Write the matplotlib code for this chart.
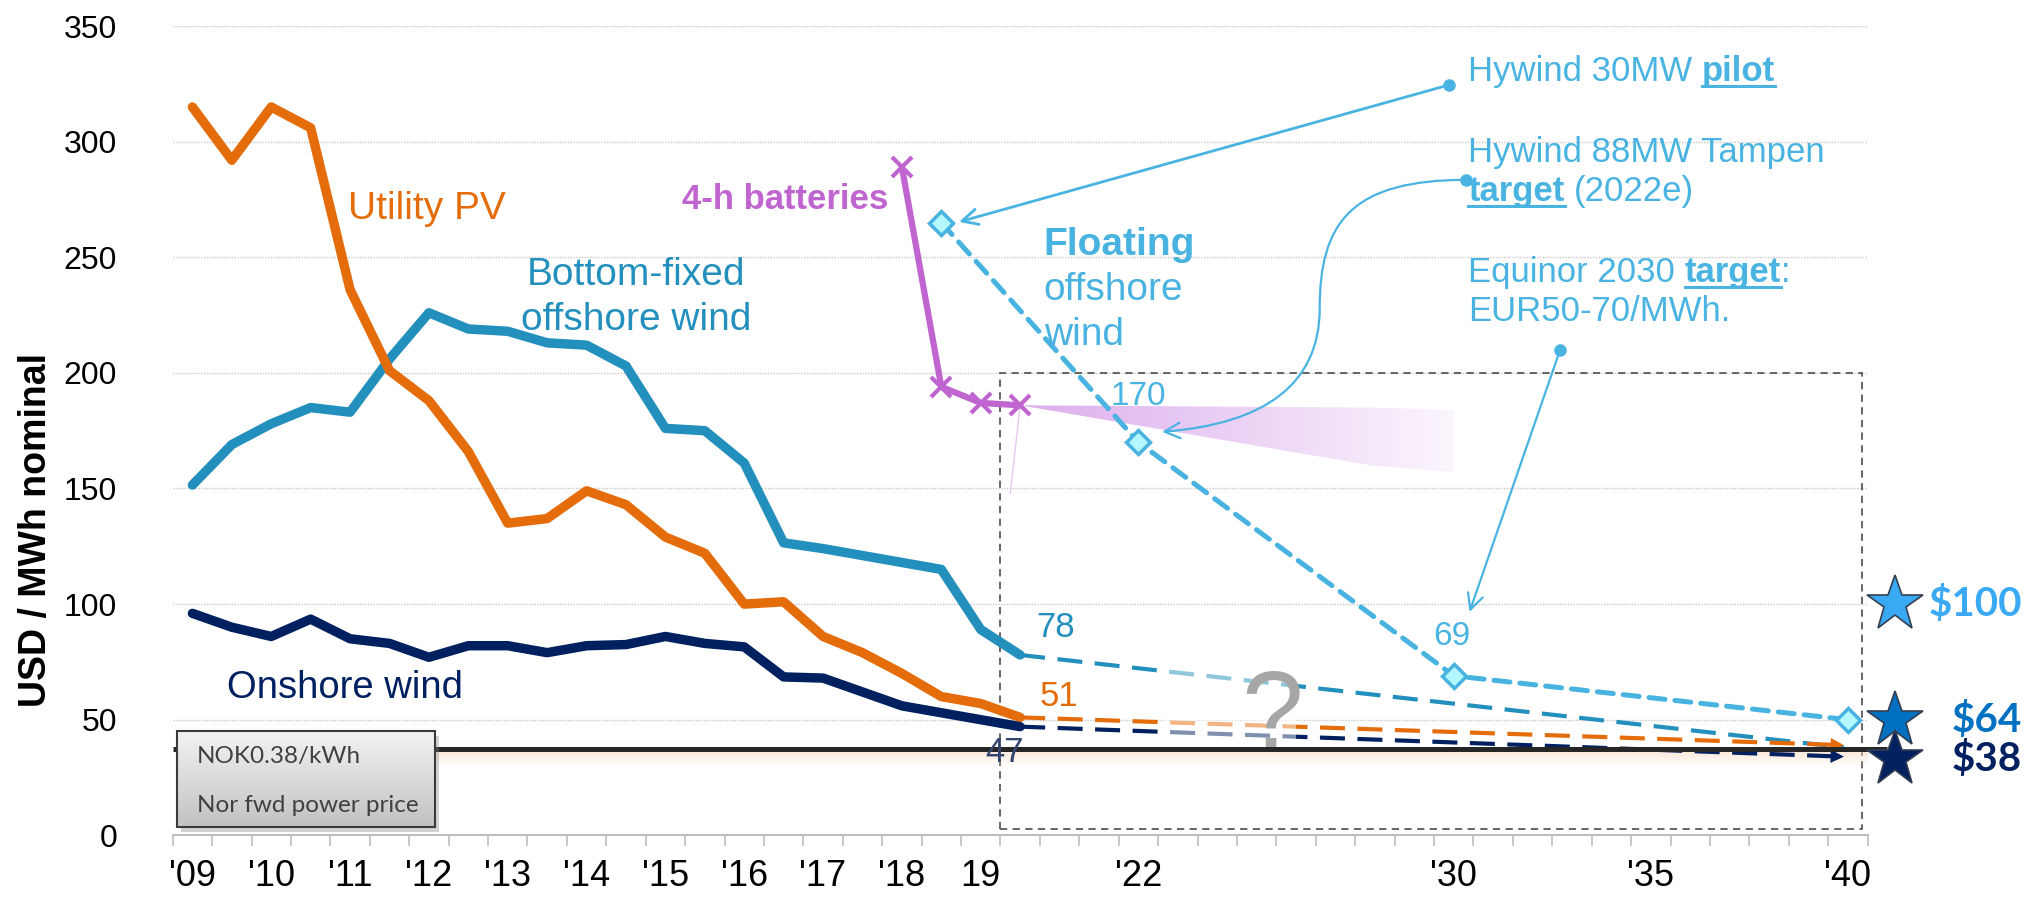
import numpy as np
import matplotlib.pyplot as plt
from matplotlib.patches import Rectangle, Polygon, FancyArrowPatch
from matplotlib.path import Path
from matplotlib.lines import Line2D

plt.rcParams['font.family'] = ['Liberation Sans', 'DejaVu Sans']

# === data (x = half-year category slots, '09 = 0) ===
tick_pos = [0, 2, 4, 6, 8, 10, 12, 14, 16, 18, 20, 24, 32, 37, 42]
tick_text = ["'09", "'10", "'11", "'12", "'13", "'14", "'15", "'16", "'17", "'18",
             "19", "'22", "'30", "'35", "'40"]

hist_x = list(range(22))
utility_pv = [315, 292, 315, 306, 236, 201, 188, 166, 135, 137, 149, 143,
              129, 122, 100, 101, 86, 79, 70, 60, 57, 51]
bottom_fixed = [151.5, 169, 178, 185, 183, 206, 226, 219, 218, 213, 212, 203,
                176, 175, 161, 126.5, 124, 121, 118, 115, 89, 78]
onshore = [96, 90, 86, 93.5, 85, 83, 77, 82, 82, 79, 82, 82.5,
           86, 83, 81.5, 68.5, 68, 62, 56, 53, 50, 47]

batt_x = [18, 19, 20, 21]
batteries = [289, 194, 187, 186]

float_x = [19, 24, 32, 42]
floating = [265, 170, 69, 50]

proj_x = [21, 41.9]
proj_bottom = [78, 38]
proj_pv = [51, 39]
proj_onshore = [47, 34]

band_x = [21, 29.9, 32]
band_top = [186, 185, 184]
band_bot = [186, 160, 157]

power_price = 37.2
star_vals = [100, 50, 33]
star_text = ['$100', '$64', '$38']

# === colours ===
C_PV = '#E46C0A'
C_BF = '#238FBC'
C_ON = '#002060'
C_BAT = '#C064D0'
C_FL = '#48B2E0'
C_ANN = '#49B3E1'
star_cols = ['#3AA9F4', '#0070C0', '#002060']

fig = plt.figure(figsize=(20.26, 8.98), dpi=100)
ax = fig.add_axes([0.08524, 0.06982, 0.83657, 0.90112])
XL, YL = (-0.5, 42.5), (0, 350)

# axes styling
for s in ['left', 'top', 'right']:
    ax.spines[s].set_visible(False)
ax.spines['bottom'].set_color('#BFBFBF')
ax.spines['bottom'].set_linewidth(1.5)
ax.set_yticks(range(0, 351, 50))
ax.tick_params(axis='y', length=0, pad=40, labelsize=23)
ax.yaxis.grid(True, ls=(0, (1, 1)), color='#C8C8C8', lw=1)
ax.set_axisbelow(True)
ax.set_xticks(np.arange(-0.5, 43, 1))
ax.set_xticklabels([])
ax.tick_params(axis='x', which='major', length=8, color='#BFBFBF', width=1.2)
ax.set_xticks(tick_pos, tick_text, minor=True)
ax.tick_params(axis='x', which='minor', length=0, pad=17, labelsize=26)

fig.text(0.0178, 0.41, 'USD / MWh nominal', rotation=90, fontsize=27,
         fontweight='bold', ha='center', va='center')

# dashed box around outlook
ax.add_patch(Rectangle((20.5, 2.6), 42.35 - 20.5, 200 - 2.6, fill=False,
                       ls=(0, (4, 3)), ec='#595959', lw=1.3, zorder=2, clip_on=False))

# purple fading band after batteries
band = Polygon(list(zip(band_x, band_top)) + list(zip(band_x[::-1], band_bot[::-1])),
               closed=True, transform=ax.transData)
grad = np.zeros((2, 256, 4))
grad[..., 0], grad[..., 1], grad[..., 2] = 0.84, 0.62, 0.92
grad[..., 3] = np.linspace(0.85, 0.1, 256)
im = ax.imshow(grad, extent=(band_x[0], band_x[-1], min(band_bot) - 2, max(band_top) + 2),
               aspect='auto', zorder=2, interpolation='bilinear')
im.set_clip_path(band)
ax.plot([21, 20.75], [186, 148], color='#E6C8F0', lw=1, zorder=2)

# peach glow below power price line
glow = np.zeros((64, 2, 4))
glow[..., 0], glow[..., 1], glow[..., 2] = 0.98, 0.84, 0.74
glow[..., 3] = np.linspace(0.6, 0.0, 64)[:, None]
ax.imshow(glow, extent=(6.2, 42.5, power_price - 8, power_price), aspect='auto',
          zorder=2, interpolation='bilinear')

# historical lines
ax.plot(hist_x, bottom_fixed, color=C_BF, lw=6.8, zorder=4, solid_capstyle='round')
ax.plot(hist_x, utility_pv, color=C_PV, lw=6.8, zorder=4, solid_capstyle='round')
ax.plot(hist_x, onshore, color=C_ON, lw=6.8, zorder=4, solid_capstyle='round')

# projections to '40
for ys, c in [(proj_bottom, C_BF), (proj_pv, C_PV), (proj_onshore, C_ON)]:
    ax.plot(proj_x, ys, color=c, lw=3, dashes=(6, 3), zorder=3)
    slope = (ys[1] - ys[0]) / (proj_x[1] - proj_x[0])
    ax.annotate('', xy=(proj_x[1], ys[1]), xytext=(proj_x[1] - 0.7, ys[1] - 0.7 * slope),
                arrowprops=dict(arrowstyle='-|>', color=c, lw=0, mutation_scale=24,
                                shrinkA=0, shrinkB=0), zorder=3)
ax.add_patch(Rectangle((24.6, 40), 3.4, 40, fc='white', ec='none', alpha=0.5, zorder=3.5))
ax.text(27.4, 50, '?', fontsize=80, color='#A6A6A6', ha='center', va='center', zorder=3.6)

# power price line
ax.plot([-0.5, 43.0], [power_price] * 2, color='#262626', lw=3.6, zorder=5,
        clip_on=False, solid_capstyle='butt')

# legend-like box
bx0, bx1, by0, by1 = -0.39, 6.15, 3.6, 45.1
ax.add_patch(Rectangle((bx0 + 0.1, by0 - 2.2), bx1 - bx0, by1 - by0, fc='#7F7F7F',
                       ec='none', alpha=0.35, zorder=6))
box = Rectangle((bx0, by0), bx1 - bx0, by1 - by0, fc='none', ec='#3A3A3A', lw=1.5, zorder=8)
ax.add_patch(box)
bgrad = np.linspace(0.95, 0.76, 64)[:, None] * np.ones((64, 2))
bim = ax.imshow(bgrad, extent=(bx0, bx1, by0, by1), aspect='auto', cmap='gray',
                vmin=0, vmax=1, zorder=7, interpolation='bilinear')
bim.set_clip_path(box)
ax.text(0.12, 34, 'NOK0.38/kWh', fontsize=17.5, family='Lato', color='#404040',
        va='center', zorder=9)
ax.text(0.12, 13.1, 'Nor fwd power price', fontsize=17.5, family='Lato', color='#404040',
        va='center', zorder=9)

# batteries
ax.plot(batt_x, batteries, color=C_BAT, lw=4.5, marker='x', ms=14, mew=3, zorder=6)

# floating offshore wind
ax.plot(float_x, floating, color=C_FL, lw=3.6, dashes=(3.2, 2), dash_capstyle='round', zorder=6)
ax.plot(float_x, floating, ls='none', marker='D', ms=12, mfc='#B3F7FF', mec=C_FL,
        mew=2.5, zorder=7)

# stars and targets
for v, t, c in zip(star_vals, star_text, star_cols):
    ax.plot([43.2], [v], marker='*', ms=42, color=c, mec='#333F50', mew=1.2,
            clip_on=False, zorder=9)
    ax.text(46.41, v, t, ha='right', va='center', fontsize=29, fontweight='bold',
            family='Lato', color=c, clip_on=False)

# series labels
ax.text(3.95, 266.6, 'Utility PV', fontsize=28, color=C_PV, va='baseline')
ax.text(11.26, 238.1, 'Bottom-fixed', fontsize=28, color=C_BF, va='baseline', ha='center')
ax.text(11.26, 218.6, 'offshore wind', fontsize=28, color=C_BF, va='baseline', ha='center')
ax.text(3.88, 59.2, 'Onshore wind', fontsize=27.5, color=C_ON, va='baseline', ha='center')
ax.text(17.65, 271, '4-h batteries', fontsize=25, fontweight='bold', color=C_BAT,
        va='baseline', ha='right')
ax.text(21.6, 251, 'Floating', fontsize=28, fontweight='bold', color=C_FL, va='baseline')
ax.text(21.6, 231.6, 'offshore', fontsize=28, color=C_FL, va='baseline')
ax.text(21.6, 212, 'wind', fontsize=28, color=C_FL, va='baseline')

# value labels
ax.text(21.4, 89.7, '78', fontsize=25, color=C_BF, va='center')
ax.text(21.5, 60, '51', fontsize=25, color=C_PV, va='center')
ax.text(20.6, 35.6, '47', fontsize=25, color='#34456F', va='center', ha='center', zorder=6)
ax.text(24.0, 190, '170', fontsize=24, color=C_ANN, va='center', ha='center')
ax.text(31.95, 86.2, '69', fontsize=24, color=C_ANN, va='center', ha='center')

# annotations with rich text
underlines = []


def rich(x, y, runs, size=25):
    prev = None
    for s, bold, ul, gap in runs:
        kw = dict(fontsize=size, color=C_ANN, fontweight='bold' if bold else 'normal')
        if prev is None:
            t = ax.text(x, y, s, ha='left', va='center', **kw)
        else:
            t = ax.annotate(s, xy=(1, 0), xycoords=prev, xytext=(gap * size, 0),
                            textcoords='offset points', ha='left', va='bottom', **kw)
        if ul:
            underlines.append(t)
        prev = t


rich(32.37, 330.2, [('Hywind 30MW', 0, 0, 0), ('pilot', 1, 1, 0.278)])
rich(32.37, 295.2, [('Hywind 88MW Tampen', 0, 0, 0)])
rich(32.37, 278.3, [('target', 1, 1, 0), ('(2022e)', 0, 0, 0.278)])
rich(32.37, 243.6, [('Equinor 2030', 0, 0, 0), ('target', 1, 1, 0.278), (':', 0, 0, 0)])
rich(32.37, 226.4, [('EUR50-70/MWh.', 0, 0, 0)])

dots = [(31.87, 324.5), (32.32, 283.5), (34.7, 210)]
ax.plot([d[0] for d in dots], [d[1] for d in dots], ls='none', marker='o', ms=8,
        color=C_ANN, zorder=6)
ax.annotate('', xy=(19.45, 265.3), xytext=dots[0],
            arrowprops=dict(arrowstyle='->', color=C_ANN, lw=2, mutation_scale=28,
                            shrinkA=0, shrinkB=0))
ax.annotate('', xy=(32.4, 96.6), xytext=dots[2],
            arrowprops=dict(arrowstyle='->', color=C_ANN, lw=1.6, mutation_scale=28,
                            shrinkA=0, shrinkB=0))
verts = [dots[1], (29.4, 283.5), (28.6, 265), (28.6, 228),
         (28.6, 195), (27.2, 178), (24.6, 174.5)]
codes = [Path.MOVETO, Path.CURVE4, Path.CURVE4, Path.CURVE4,
         Path.CURVE4, Path.CURVE4, Path.CURVE4]
ax.add_patch(FancyArrowPatch(path=Path(verts, codes), arrowstyle='->', color=C_ANN,
                             lw=1.6, mutation_scale=28, zorder=6))

ax.set_xlim(*XL)
ax.set_ylim(*YL)

fig.canvas.draw()
for t in underlines:
    bb = t.get_window_extent()
    fig.add_artist(Line2D([bb.x0, bb.x1], [bb.y0 + 2, bb.y0 + 2], transform=None,
                          color=C_ANN, lw=2.2))

fig.savefig('out.png', dpi=100)
